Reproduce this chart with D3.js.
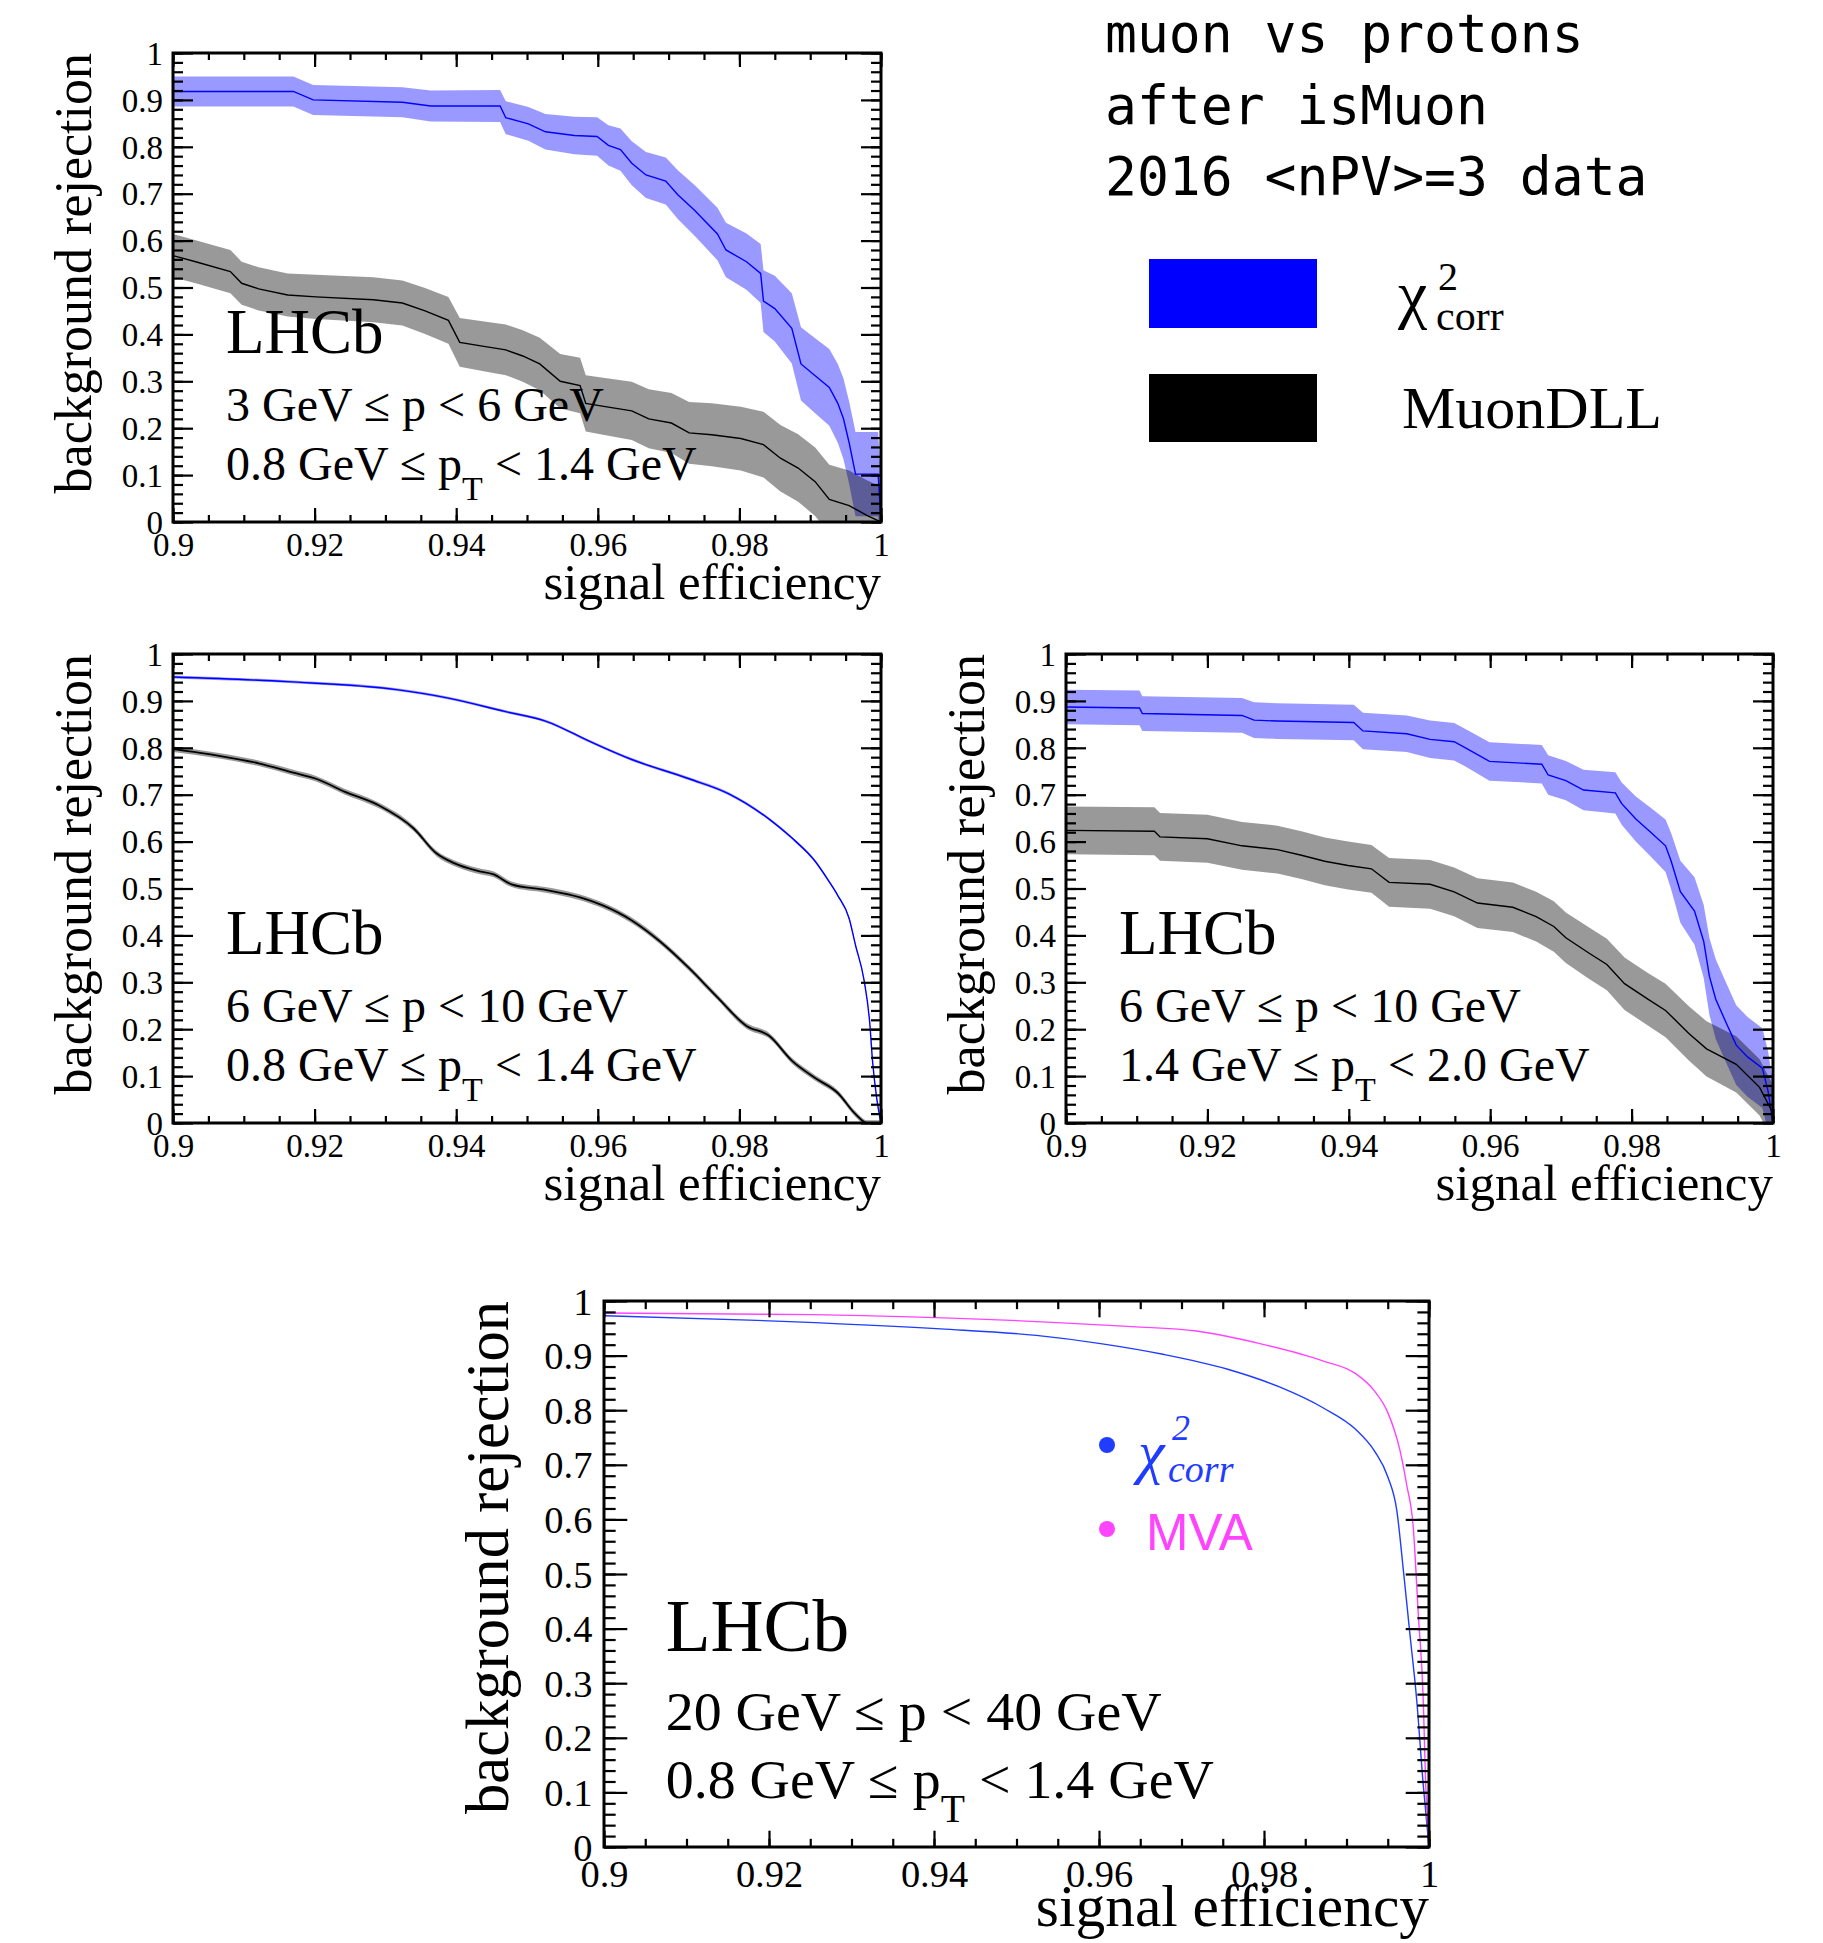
<!DOCTYPE html>
<html>
<head>
<meta charset="utf-8">
<script src="https://cdn.jsdelivr.net/npm/d3@7"></script>
<style>
  body { margin: 0; background: #fff; }
  text { font-family: "Liberation Serif", "Times New Roman", serif; fill: #000; }
</style>
</head>
<body>
<div id="chart"></div>
<script>
// axis ticks
var xTicks = [0.9, 0.92, 0.94, 0.96, 0.98, 1];
var yTicks = [0, 0.1, 0.2, 0.3, 0.4, 0.5, 0.6, 0.7, 0.8, 0.9, 1];

// panel 1 : 3 < p < 6, 0.8 < pT < 1.4
var p1ChiEff = [0.9,0.917,0.9198,0.9324,0.9364,0.9462,0.947,0.9502,0.9526,0.9567,0.9599,0.9615,0.9632,0.9648,0.9668,0.9696,0.9713,0.9737,0.9769,0.9781,0.981,0.983,0.9834,0.985,0.9874,0.9887,0.9907,0.9927,0.9939,0.9947,0.9955,0.9964,0.9996,1.0];
var p1ChiRej = [0.918,0.918,0.9,0.895,0.887,0.887,0.862,0.849,0.832,0.824,0.822,0.803,0.794,0.765,0.74,0.727,0.698,0.664,0.614,0.58,0.555,0.53,0.471,0.455,0.413,0.337,0.312,0.287,0.253,0.22,0.169,0.102,0.102,0.0];
var p1ChiErr = [0.032,0.032,0.032,0.032,0.033,0.034,0.035,0.036,0.038,0.04,0.041,0.043,0.045,0.047,0.049,0.05,0.052,0.054,0.056,0.058,0.06,0.063,0.066,0.07,0.075,0.078,0.08,0.082,0.084,0.086,0.088,0.09,0.09,0.09];
var p1DllEff = [0.9,0.9032,0.9081,0.9097,0.9121,0.9162,0.9202,0.9283,0.9324,0.9356,0.9389,0.9405,0.9437,0.947,0.9494,0.9518,0.9547,0.9575,0.9583,0.9615,0.9648,0.9672,0.9704,0.9729,0.9761,0.9802,0.9834,0.9858,0.9883,0.9907,0.9927,0.9955,0.998,1.0];
var p1DllRej = [0.568,0.555,0.534,0.509,0.497,0.484,0.48,0.474,0.467,0.45,0.43,0.383,0.375,0.367,0.354,0.337,0.3,0.291,0.253,0.245,0.237,0.22,0.211,0.19,0.186,0.178,0.165,0.136,0.115,0.086,0.048,0.035,0.014,0.0];
var p1DllErr = [0.046,0.046,0.046,0.046,0.046,0.046,0.047,0.048,0.048,0.049,0.05,0.052,0.053,0.054,0.055,0.056,0.058,0.059,0.06,0.061,0.062,0.063,0.064,0.066,0.067,0.068,0.07,0.071,0.072,0.073,0.074,0.075,0.075,0.075];

// panel 2 : 6 < p < 10, 0.8 < pT < 1.4
var p2ChiEff = [0.9,0.9162,0.9316,0.9389,0.947,0.9526,0.9591,0.9648,0.9729,0.9785,0.9842,0.9874,0.9907,0.9927,0.9939,0.9955,0.9964,0.9976,0.9984,0.9988,0.9994,1.0];
var p2ChiRej = [0.951,0.941,0.924,0.906,0.877,0.857,0.812,0.775,0.734,0.702,0.648,0.608,0.558,0.514,0.485,0.436,0.379,0.305,0.215,0.133,0.052,0.0];
var p2ChiErr = [0.003,0.003,0.003,0.003,0.003,0.003,0.003,0.003,0.003,0.003,0.003,0.003,0.003,0.003,0.003,0.003,0.003,0.003,0.003,0.003,0.003,0.003];
var p2DllEff = [0.9,0.9065,0.9121,0.917,0.9202,0.9243,0.9291,0.934,0.9372,0.9397,0.9429,0.9453,0.9478,0.9526,0.9575,0.9607,0.9648,0.9688,0.9729,0.9769,0.981,0.9842,0.9874,0.9907,0.9939,0.9964,0.998,1.0];
var p2DllRej = [0.797,0.783,0.767,0.747,0.734,0.706,0.677,0.628,0.575,0.554,0.538,0.53,0.509,0.497,0.481,0.464,0.432,0.387,0.33,0.268,0.207,0.186,0.133,0.096,0.064,0.019,0.0,0.0];
var p2DllErr = [0.006,0.006,0.006,0.006,0.006,0.006,0.006,0.006,0.006,0.006,0.006,0.006,0.006,0.006,0.006,0.006,0.006,0.006,0.006,0.006,0.006,0.006,0.006,0.006,0.006,0.006,0.006,0.006];

// panel 3 : 6 < p < 10, 1.4 < pT < 2.0
var p3ChiEff = [0.9,0.9104,0.9108,0.9249,0.9266,0.9299,0.9407,0.942,0.9482,0.9515,0.9549,0.9565,0.9599,0.9673,0.9682,0.9707,0.9732,0.9777,0.9786,0.9806,0.9827,0.9848,0.9856,0.9869,0.9889,0.9902,0.991,0.9919,0.9931,0.9948,0.9964,0.9985,0.9993,1.0];
var p3ChiRej = [0.887,0.885,0.873,0.869,0.859,0.857,0.854,0.836,0.83,0.818,0.813,0.8,0.771,0.765,0.742,0.73,0.71,0.704,0.681,0.648,0.62,0.591,0.558,0.493,0.452,0.387,0.313,0.264,0.223,0.166,0.141,0.117,0.068,0.0];
var p3ChiErr = [0.037,0.037,0.037,0.037,0.038,0.038,0.038,0.039,0.039,0.04,0.04,0.04,0.041,0.041,0.042,0.042,0.043,0.044,0.045,0.048,0.052,0.056,0.06,0.066,0.072,0.078,0.082,0.085,0.085,0.085,0.085,0.085,0.085,0.085];
var p3DllEff = [0.9,0.9125,0.9133,0.92,0.9249,0.9299,0.9333,0.9366,0.9399,0.9432,0.9457,0.9515,0.9549,0.9582,0.9632,0.9665,0.969,0.9707,0.974,0.9765,0.979,0.9823,0.9848,0.9881,0.9906,0.9948,0.9981,0.9998,1.0];
var p3DllRej = [0.624,0.622,0.61,0.606,0.591,0.583,0.571,0.558,0.549,0.542,0.513,0.509,0.493,0.469,0.46,0.44,0.419,0.395,0.362,0.338,0.297,0.264,0.24,0.191,0.158,0.125,0.076,0.027,0.0];
var p3DllErr = [0.051,0.051,0.051,0.051,0.051,0.051,0.051,0.051,0.051,0.051,0.052,0.052,0.052,0.053,0.053,0.053,0.054,0.054,0.055,0.055,0.056,0.056,0.057,0.058,0.059,0.06,0.06,0.06,0.06];

// panel 4 : 20 < p < 40, 0.8 < pT < 1.4
var p4ChiEff = [0.9,0.9176,0.9408,0.9524,0.9602,0.9679,0.9756,0.9818,0.9872,0.9911,0.9934,0.995,0.9961,0.9969,0.9977,0.9985,0.9993,1.0];
var p4ChiRej = [0.973,0.965,0.949,0.937,0.922,0.902,0.875,0.843,0.804,0.765,0.725,0.678,0.616,0.506,0.388,0.271,0.114,0.0];
var p4MvaEff = [0.9,0.9254,0.9486,0.964,0.9718,0.9795,0.9872,0.9911,0.9934,0.995,0.9965,0.9973,0.9981,0.9987,0.9993,0.9996,1.0];
var p4MvaRej = [0.978,0.975,0.965,0.953,0.945,0.922,0.89,0.867,0.835,0.796,0.725,0.663,0.584,0.427,0.271,0.114,0.0];

var headerLines = ["muon vs protons", "after isMuon", "2016 <nPV>=3 data"];

function pts(eff, rej, err) {
  return eff.map(function(e, i) { return { e: e, r: rej[i], err: err ? err[i] : 0 }; });
}

var width = 1823, height = 1943;
var svg = d3.select('#chart').append('svg')
  .attr('width', width).attr('height', height)
  .style('background', '#fff');

var serif = '"Liberation Serif", "Times New Roman", serif';

function drawPanel(p, series, txt) {
  var k = p.k;
  var x = d3.scaleLinear().domain([0.9, 1]).range([p.left, p.right]);
  var y = d3.scaleLinear().domain([0, 1]).range([p.bottom, p.top]);
  var g = svg.append('g');

  var clipId = 'clip' + p.id;
  g.append('clipPath').attr('id', clipId).append('rect')
    .attr('x', p.left).attr('y', p.top)
    .attr('width', p.right - p.left).attr('height', p.bottom - p.top);

  var plot = g.append('g').attr('clip-path', 'url(#' + clipId + ')');
  var area = d3.area()
    .x(function(d) { return x(d.e); })
    .y0(function(d) { return y(d.r - d.err); })
    .y1(function(d) { return y(d.r + d.err); })
    .curve(p.curve);
  var line = d3.line()
    .x(function(d) { return x(d.e); })
    .y(function(d) { return y(d.r); })
    .curve(p.curve);

  series.forEach(function(s) {
    if (s.band) {
      plot.append('path').datum(s.data)
        .attr('d', area).attr('fill', s.color).attr('fill-opacity', 0.4);
    }
  });
  series.forEach(function(s) {
    plot.append('path').datum(s.data)
      .attr('d', line).attr('fill', 'none')
      .attr('stroke', s.color).attr('stroke-width', s.width || 1.4);
  });

  var xMinor = d3.range(0, 21).map(function(i) { return 0.9 + i * 0.005; });
  var yMinor = d3.range(0, 51).map(function(i) { return i * 0.02; });
  var fmt = function(d) { return String(d); };

  function styleAxis(sel) {
    sel.select('.domain').remove();
    sel.selectAll('line').attr('stroke', '#000').attr('stroke-width', 2.2);
    sel.selectAll('text').style('font-family', serif).style('font-size', (33 * k) + 'px').attr('fill', '#000');
  }

  // bottom
  g.append('g').attr('transform', 'translate(0,' + p.bottom + ')')
    .call(d3.axisBottom(x).tickValues(xMinor).tickSize(-7 * k).tickFormat(''))
    .call(styleAxis);
  var bx = g.append('g').attr('transform', 'translate(0,' + p.bottom + ')')
    .call(d3.axisBottom(x).tickValues(xTicks).tickSize(-14 * k).tickFormat(fmt))
    .call(styleAxis);
  bx.selectAll('text').attr('dy', null).attr('y', 34 * k);
  // top
  g.append('g').attr('transform', 'translate(0,' + p.top + ')')
    .call(d3.axisTop(x).tickValues(xMinor).tickSize(-7 * k).tickFormat(''))
    .call(styleAxis);
  g.append('g').attr('transform', 'translate(0,' + p.top + ')')
    .call(d3.axisTop(x).tickValues(xTicks).tickSize(-14 * k).tickFormat(''))
    .call(styleAxis);
  // left
  g.append('g').attr('transform', 'translate(' + p.left + ',0)')
    .call(d3.axisLeft(y).tickValues(yMinor).tickSize(-10 * k).tickFormat(''))
    .call(styleAxis);
  var ly = g.append('g').attr('transform', 'translate(' + p.left + ',0)')
    .call(d3.axisLeft(y).tickValues(yTicks).tickSize(-20 * k).tickFormat(fmt))
    .call(styleAxis);
  ly.selectAll('text').attr('x', -10 * k).attr('dy', '0.34em');
  // right
  g.append('g').attr('transform', 'translate(' + p.right + ',0)')
    .call(d3.axisRight(y).tickValues(yMinor).tickSize(-10 * k).tickFormat(''))
    .call(styleAxis);
  g.append('g').attr('transform', 'translate(' + p.right + ',0)')
    .call(d3.axisRight(y).tickValues(yTicks).tickSize(-20 * k).tickFormat(''))
    .call(styleAxis);

  g.append('rect')
    .attr('x', p.left).attr('y', p.top)
    .attr('width', p.right - p.left).attr('height', p.bottom - p.top)
    .attr('fill', 'none').attr('stroke', '#000').attr('stroke-width', 3);

  // axis titles
  g.append('text')
    .attr('x', p.right).attr('y', p.bottom + p.titleDy)
    .attr('text-anchor', 'end')
    .style('font-size', (51 * k) + 'px')
    .text('signal efficiency');
  g.append('text')
    .attr('transform', 'translate(' + (p.left - 82 * k) + ',' + p.top + ') rotate(-90)')
    .attr('text-anchor', 'end')
    .style('font-size', (52 * k) + 'px')
    .text('background rejection');

  // LHCb label and kinematic range
  var tx = p.left + 53 * k;
  g.append('text').attr('x', tx).attr('y', p.top + 300 * k)
    .style('font-size', (63 * k) + 'px').text('LHCb');
  g.append('text').attr('x', tx).attr('y', p.top + 368 * k)
    .style('font-size', (48 * k) + 'px').text(txt[0]);
  var t2 = g.append('text').attr('x', tx).attr('y', p.top + 427 * k)
    .style('font-size', (48 * k) + 'px');
  t2.append('tspan').text(txt[1] + ' p');
  t2.append('tspan').attr('dy', 20 * k).style('font-size', (34 * k) + 'px').text('T');
  t2.append('tspan').attr('dy', -20 * k).text(' ' + txt[2]);

  return { x: x, y: y, g: g };
}

var blue = '#0000ff';
var black = '#000000';

drawPanel({ id: 1, left: 173, right: 881, top: 53, bottom: 522, k: 1, titleDy: 77, curve: d3.curveLinear }, [
  { data: pts(p1ChiEff, p1ChiRej, p1ChiErr), color: blue, band: true },
  { data: pts(p1DllEff, p1DllRej, p1DllErr), color: black, band: true }
], ['3 GeV \u2264 p < 6 GeV', '0.8 GeV \u2264', '< 1.4 GeV']);

drawPanel({ id: 2, left: 173, right: 881, top: 654, bottom: 1123, k: 1, titleDy: 77, curve: d3.curveMonotoneX }, [
  { data: pts(p2ChiEff, p2ChiRej, p2ChiErr), color: blue, band: true },
  { data: pts(p2DllEff, p2DllRej, p2DllErr), color: black, band: true, width: 1.8 }
], ['6 GeV \u2264 p < 10 GeV', '0.8 GeV \u2264', '< 1.4 GeV']);

drawPanel({ id: 3, left: 1066, right: 1773, top: 654, bottom: 1123, k: 1, titleDy: 77, curve: d3.curveLinear }, [
  { data: pts(p3ChiEff, p3ChiRej, p3ChiErr), color: blue, band: true },
  { data: pts(p3DllEff, p3DllRej, p3DllErr), color: black, band: true }
], ['6 GeV \u2264 p < 10 GeV', '1.4 GeV \u2264', '< 2.0 GeV']);

var chiBlue = '#1f3cff', mvaPink = '#ff44ff';
var p4 = drawPanel({ id: 4, left: 604, right: 1429, top: 1301, bottom: 1847, k: 1.165, titleDy: 79, curve: d3.curveMonotoneX }, [
  { data: pts(p4ChiEff, p4ChiRej), color: chiBlue, band: false },
  { data: pts(p4MvaEff, p4MvaRej), color: mvaPink, band: false }
], ['20 GeV \u2264 p < 40 GeV', '0.8 GeV \u2264', '< 1.4 GeV']);

// panel 4 legend
p4.g.append('circle').attr('cx', 1107).attr('cy', 1445).attr('r', 8).attr('fill', chiBlue);
p4.g.append('circle').attr('cx', 1107).attr('cy', 1529).attr('r', 8).attr('fill', mvaPink);
p4.g.append('text').attr('x', 1138).attr('y', 1472)
  .style('font-size', '60px').style('font-style', 'italic').style('fill', chiBlue).text('\u03c7');
p4.g.append('text').attr('x', 1172).attr('y', 1440)
  .style('font-size', '36px').style('font-style', 'italic').style('fill', chiBlue).text('2');
p4.g.append('text').attr('x', 1168).attr('y', 1482)
  .style('font-size', '38px').style('font-style', 'italic').style('fill', chiBlue).text('corr');
p4.g.append('text').attr('x', 1146).attr('y', 1550)
  .style('font-family', '"Liberation Sans", Arial, sans-serif').style('font-size', '51px')
  .style('fill', mvaPink).text('MVA');

// header + legend (top right)
var head = svg.append('g');
headerLines.forEach(function(l, i) {
  head.append('text')
    .attr('x', 1105).attr('y', 52 + i * 71.5)
    .style('font-family', '"DejaVu Sans Mono", monospace')
    .style('font-size', '53px')
    .text(l);
});
head.append('rect').attr('x', 1149).attr('y', 259).attr('width', 168).attr('height', 69).attr('fill', blue);
head.append('rect').attr('x', 1149).attr('y', 374).attr('width', 168).attr('height', 68).attr('fill', black);
head.append('text').attr('x', 1398).attr('y', 316).style('font-size', '66px').text('\u03c7');
head.append('text').attr('x', 1438).attr('y', 290).style('font-size', '40px').text('2');
head.append('text').attr('x', 1436).attr('y', 330).style('font-size', '42px').text('corr');
head.append('text').attr('x', 1402).attr('y', 428).style('font-size', '60px').text('MuonDLL');
</script>
</body>
</html>
